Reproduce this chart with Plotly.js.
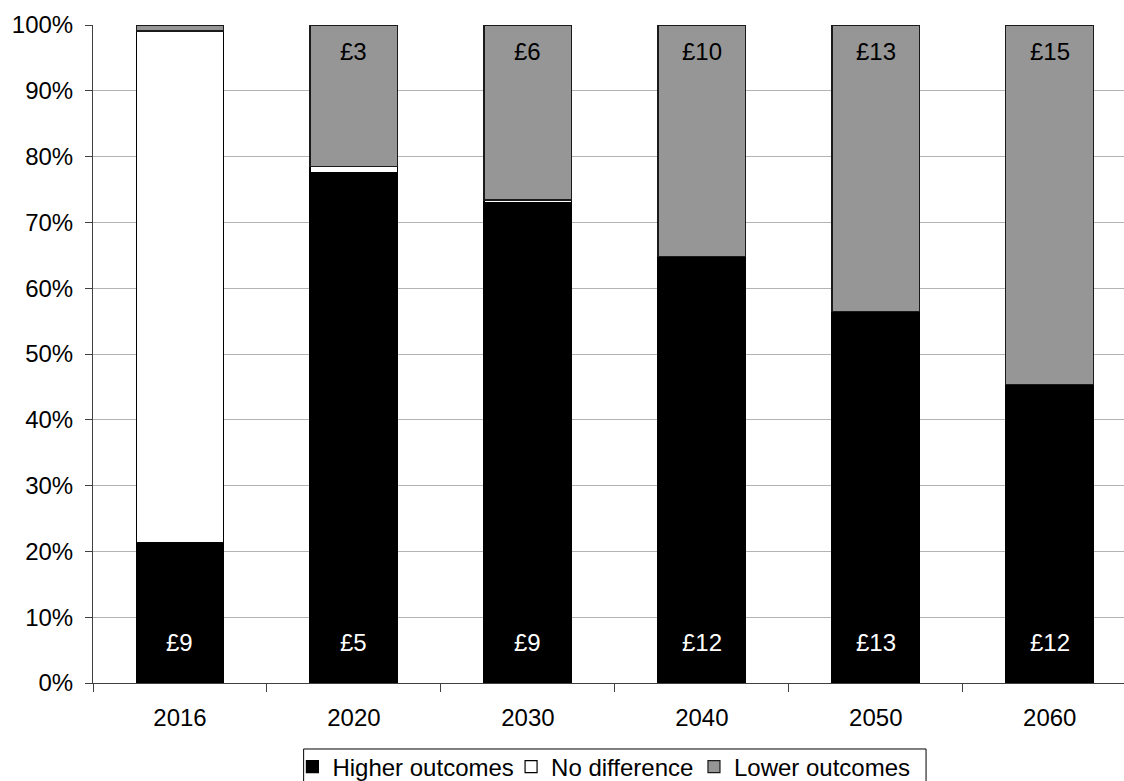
<!DOCTYPE html>
<html>
<head>
<meta charset="utf-8">
<script src="https://cdn.plot.ly/plotly-3.0.1.min.js"></script>
<style>html,body{margin:0;padding:0;background:#fff;}#chart{width:1124px;height:781px;}</style>
</head>
<body>
<div id="chart"></div>
<script>
const years = ['2016', '2020', '2030', '2040', '2050', '2060'];
const higherOutcomes = [21.4, 77.5, 73.0, 64.8, 56.5, 45.4];
const noDifference = [77.7, 1.0, 0.4, 0.0, 0.0, 0.0];
const lowerOutcomes = [0.9, 21.5, 26.6, 35.2, 43.5, 54.6];
const higherLabels = ['£9', '£5', '£9', '£12', '£13', '£12'];
const lowerLabels = ['', '£3', '£6', '£10', '£13', '£15'];
const yTickValues = [0, 10, 20, 30, 40, 50, 60, 70, 80, 90, 100];
const seriesNames = ['Higher outcomes', 'No difference', 'Lower outcomes'];

const fontFamily = 'Arial, Liberation Sans, sans-serif';
const fs = 24;

const traces = [
  {type: 'bar', name: seriesNames[0], x: years, y: higherOutcomes, legend: 'legend',
   marker: {color: '#000000', line: {color: '#000000', width: 1.2}}, hoverinfo: 'skip'},
  {type: 'bar', name: seriesNames[1], x: years, y: noDifference, legend: 'legend2',
   marker: {color: '#ffffff', line: {color: '#000000', width: 1.2}}, hoverinfo: 'skip'},
  {type: 'bar', name: seriesNames[2], x: years, y: lowerOutcomes, legend: 'legend3',
   marker: {color: '#969696', line: {color: '#1a1a1a', width: 1.2}}, hoverinfo: 'skip'}
];

const annotations = [];
years.forEach((yr, i) => {
  if (higherLabels[i]) annotations.push({x: i, y: 6.2, xref: 'x', yref: 'y', text: higherLabels[i],
    showarrow: false, font: {family: fontFamily, size: fs, color: '#ffffff'}, yanchor: 'middle', xanchor: 'center'});
  if (lowerLabels[i]) annotations.push({x: i, y: 95.9, xref: 'x', yref: 'y', text: lowerLabels[i],
    showarrow: false, font: {family: fontFamily, size: fs, color: '#000000'}, yanchor: 'middle', xanchor: 'center'});
});

function legendAt(x) {
  return {orientation: 'h', x: x, xanchor: 'left', y: -0.1277, yanchor: 'middle',
    borderwidth: 0, bgcolor: 'rgba(0,0,0,0)', font: {family: fontFamily, size: fs, color: '#000000'},
    itemwidth: 30};
}

const layout = {
  width: 1124, height: 781,
  margin: {l: 93, r: 0, t: 25, b: 98, autoexpand: false},
  paper_bgcolor: '#ffffff', plot_bgcolor: '#ffffff',
  barmode: 'stack', bargap: 0.496,
  font: {family: fontFamily, size: fs, color: '#000000'},
  showlegend: true,
  legend: legendAt(0.1934),
  legend2: legendAt(0.4055),
  legend3: legendAt(0.5829),
  shapes: [{type: 'rect', xref: 'paper', yref: 'paper', x0: 0.2043, x1: 0.808, y0: -0.1003, y1: -0.17,
    line: {color: '#000000', width: 1}, fillcolor: 'rgba(0,0,0,0)', layer: 'above'}],
  xaxis: {type: 'category', range: [-0.5, 5.427], tickson: 'boundaries', ticks: 'outside',
    ticklen: 8, tickcolor: '#404040', showline: true, linecolor: '#404040', linewidth: 1,
    showgrid: false, zeroline: false, ticklabelstandoff: 13, automargin: false,
    tickfont: {family: fontFamily, size: fs, color: '#000000'}, fixedrange: true},
  yaxis: {range: [0, 100], tickmode: 'array', tickvals: yTickValues,
    ticktext: yTickValues.map(v => v + '%'), ticks: 'outside', ticklabelstandoff: 7,
    ticklen: 7, tickcolor: '#404040', showline: true, linecolor: '#404040', linewidth: 1,
    showgrid: true, gridcolor: '#b3b3b3', gridwidth: 1, zeroline: false, automargin: false,
    tickfont: {family: fontFamily, size: fs, color: '#000000'}, fixedrange: true},
  annotations: annotations
};

Plotly.newPlot('chart', traces, layout, {displayModeBar: false});
</script>
</body>
</html>
